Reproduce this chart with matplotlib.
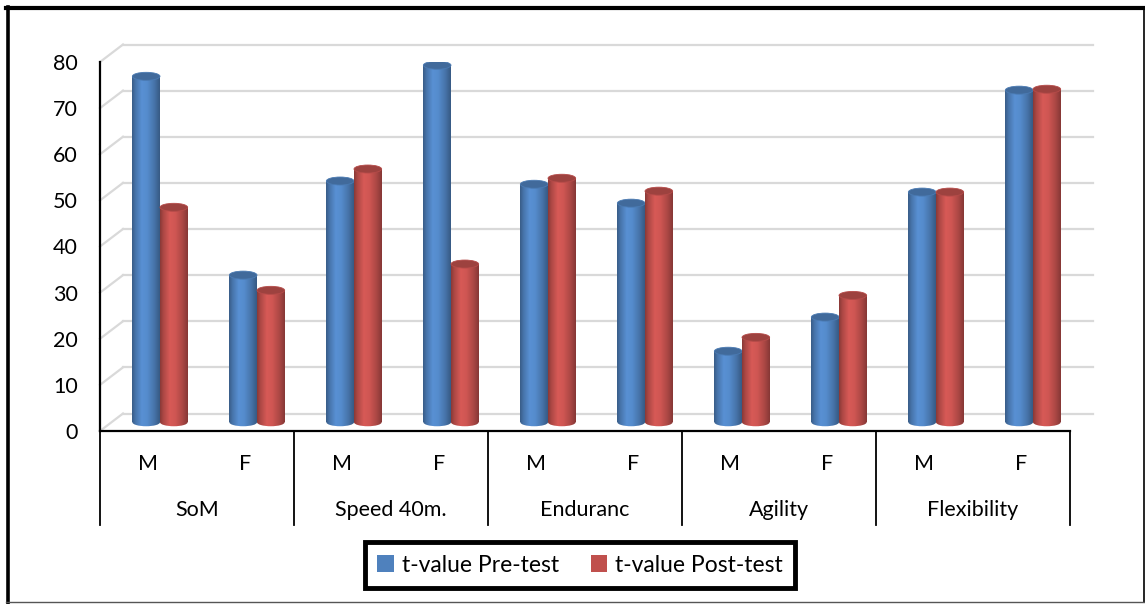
import numpy as np
import matplotlib
matplotlib.use('Agg')
import matplotlib.pyplot as plt
import matplotlib.colors as mcolors
from matplotlib.patches import Rectangle, Ellipse, Patch
from matplotlib.transforms import blended_transform_factory

plt.rcParams['font.family'] = ['Lato', 'DejaVu Sans']

# data
groups = ['SoM', 'Speed 40m.', 'Enduranc', 'Agility', 'Flexibility']
sexes = ['M', 'F']
pre_test = [75.0, 31.9, 52.3, 77.4, 51.6, 47.5, 15.4, 22.8, 49.9, 72.0]
post_test = [46.6, 28.6, 54.9, 34.3, 52.9, 50.1, 18.4, 27.5, 49.9, 72.2]
series_names = ['t-value Pre-test', 't-value Post-test']
series_colors = ['#4F81BD', '#C0504D']
yticks = list(range(0, 81, 10))

W, H = 1145, 604
fig = plt.figure(figsize=(W / 100, H / 100), dpi=100)

# axes in pixel terms: x 100..1070, y(0)=431, y(80)=62 from top
ax_l, ax_r, ax_b, ax_t = 100, 1070, 431, 62
ax = fig.add_axes([ax_l / W, (H - ax_b) / H, (ax_r - ax_l) / W, (ax_b - ax_t) / H])
n = len(pre_test)
ax.set_xlim(0, n)
ax.set_ylim(0, 80)
px_x = (ax_r - ax_l) / n          # px per x unit
px_y = (ax_b - ax_t) / 80         # px per y unit

# depth offsets (3D look)
wall_dx, wall_dy = 23 / px_x, 17.5 / px_y
bar_dx, bar_dy = wall_dx / 2, wall_dy / 2

# back wall gridlines + side wall diagonals
for v in yticks:
    ax.plot([wall_dx, n + wall_dx], [v + wall_dy, v + wall_dy], color='#D9D9D9',
            lw=1.6, clip_on=False, zorder=1)
    ax.plot([0, wall_dx], [v, v + wall_dy], color='#D9D9D9', lw=1.6,
            clip_on=False, zorder=1)

profile = np.interp(np.linspace(0, 1, 60),
                    [0, 0.12, 0.35, 0.55, 0.8, 1.0],
                    [0.72, 0.9, 1.12, 1.08, 0.9, 0.7])


def shade(color):
    rgb = np.array(mcolors.to_rgb(color))
    img = np.clip(rgb[None, :] * profile[:, None], 0, 1)
    return img[None, :, :]


bw = 0.285
ell_h = 8 / px_y
for si, (vals, col) in enumerate(zip([pre_test, post_test], series_colors)):
    img = shade(col)
    for i, v in enumerate(vals):
        xc = i + 0.5 + bar_dx + (si - 0.5) * bw
        x0 = xc - bw / 2
        base = bar_dy
        top = v + bar_dy
        z = 3 + si
        body = Rectangle((x0, base), bw, top - base, transform=ax.transData)
        im = ax.imshow(img, extent=[x0, x0 + bw, base, top], aspect='auto',
                       zorder=z, clip_on=True)
        im.set_clip_path(body)
        bot = Ellipse((xc, base), bw, ell_h, transform=ax.transData)
        im2 = ax.imshow(img, extent=[x0, x0 + bw, base - ell_h, base + ell_h],
                        aspect='auto', zorder=z)
        im2.set_clip_path(bot)
        dark = np.array(mcolors.to_rgb(col)) * 0.82
        ax.add_patch(Ellipse((xc, top), bw, ell_h, facecolor=dark,
                             edgecolor=np.clip(dark * 1.15, 0, 1), lw=0.6, zorder=z + 0.5))

ax.set_xlim(0, n)
ax.set_ylim(0, 80)

for s in ['top', 'right']:
    ax.spines[s].set_visible(False)
ax.spines['left'].set_linewidth(1.6)
ax.spines['bottom'].set_linewidth(1.6)
ax.set_yticks(yticks)
ax.tick_params(axis='y', length=0, pad=16, labelsize=15.5)
ax.set_xticks([])

# category table below
tr = blended_transform_factory(ax.transData, ax.transAxes)
def ay(py):
    return (ax_b - py) / (ax_b - ax_t)

for k in range(0, n + 1, 2):
    ax.plot([k, k], [0, ay(525)], color='black', lw=1.3, transform=tr, clip_on=False)
for i in range(n):
    ax.text(i + 0.5, ay(464), sexes[i % 2], transform=tr, ha='center', va='center',
            fontsize=15.5)
for g, name in enumerate(groups):
    ax.text(2 * g + 1, ay(510), name, transform=tr, ha='center', va='center',
            fontsize=15.5)

# legend
handles = [Patch(facecolor=c, edgecolor='none') for c in series_colors]
leg = fig.legend(handles, series_names, loc='center', bbox_to_anchor=(580 / W, 1 - 565 / H),
                 ncol=2, fontsize=16.5, frameon=True, fancybox=False, framealpha=1,
                 handlelength=0.7, handleheight=0.7, handletextpad=0.35,
                 columnspacing=1.4, borderpad=0.55, borderaxespad=0)
leg.get_frame().set_edgecolor('black')
leg.get_frame().set_linewidth(3.5)

# outer border
def fx(px):
    return px / W
def fy(py):
    return 1 - py / H
fig.add_artist(plt.Line2D([fx(7.5), fx(7.5)], [fy(7), fy(603)], color='black', lw=2.6))
fig.add_artist(plt.Line2D([fx(6), fx(1144)], [fy(8), fy(8)], color='black', lw=3))
fig.add_artist(plt.Line2D([fx(1143.5), fx(1143.5)], [fy(8), fy(602)], color='black', lw=1.2))
fig.add_artist(plt.Line2D([fx(6), fx(1144)], [fy(602), fy(602)], color='#555555', lw=1))

fig.savefig('out.png', dpi=100)
